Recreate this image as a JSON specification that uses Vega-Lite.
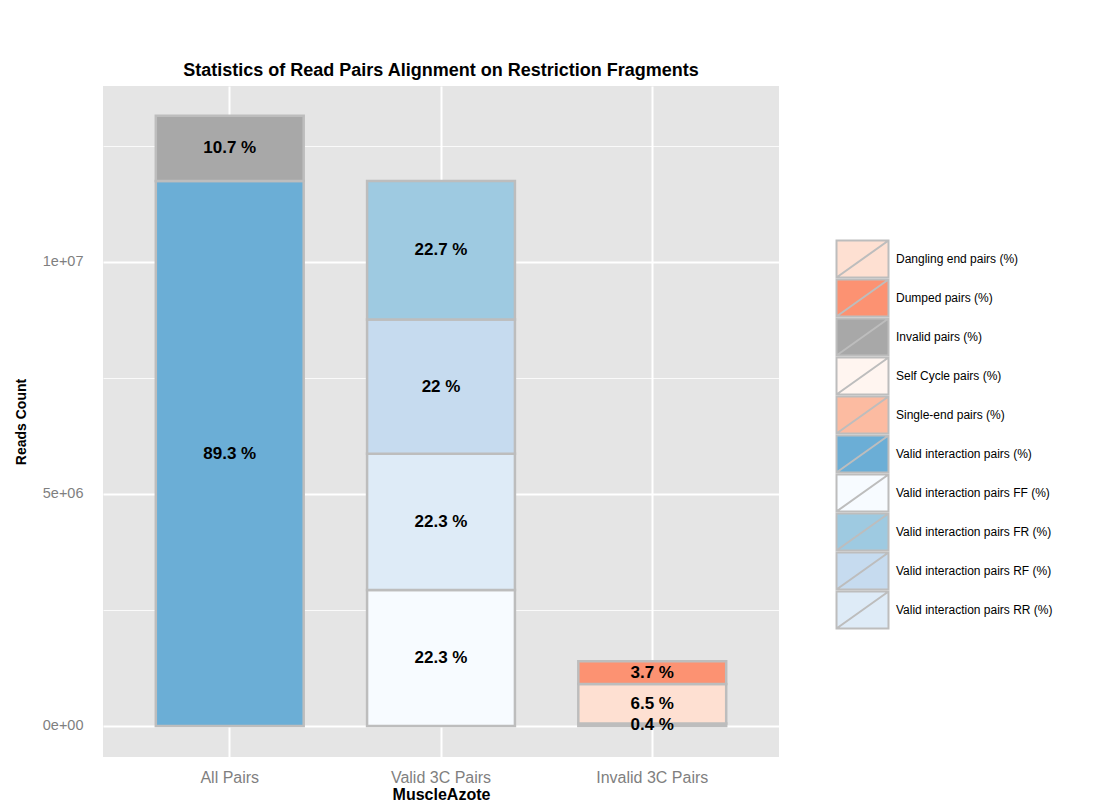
{
  "$schema": "https://vega.github.io/schema/vega-lite/v6.json",
  "width": 676,
  "height": 671,
  "autosize": "none",
  "padding": {"left": 103, "top": 86, "right": 316, "bottom": 50},
  "background": "white",
  "title": {
    "text": "Statistics of Read Pairs Alignment on Restriction Fragments",
    "font": "Liberation Sans",
    "fontSize": 18,
    "fontWeight": "bold",
    "color": "black",
    "anchor": "middle",
    "offset": 6
  },
  "config": {
    "view": {"fill": "#e5e5e5", "stroke": null},
    "font": "Liberation Sans"
  },
  "data": {
    "values": [
      {"sample": "All Pairs", "type": "Valid interaction pairs (%)", "reads": 11742950, "perc": 89.3, "rank": 1},
      {"sample": "All Pairs", "type": "Invalid pairs (%)", "reads": 1407050, "perc": 10.7, "rank": 2},
      {"sample": "Valid 3C Pairs", "type": "Valid interaction pairs FF (%)", "reads": 2932450, "perc": 22.3, "rank": 1},
      {"sample": "Valid 3C Pairs", "type": "Valid interaction pairs RR (%)", "reads": 2932450, "perc": 22.3, "rank": 2},
      {"sample": "Valid 3C Pairs", "type": "Valid interaction pairs RF (%)", "reads": 2893000, "perc": 22, "rank": 3},
      {"sample": "Valid 3C Pairs", "type": "Valid interaction pairs FR (%)", "reads": 2985050, "perc": 22.7, "rank": 4},
      {"sample": "Invalid 3C Pairs", "type": "Self Cycle pairs (%)", "reads": 52600, "perc": 0.4, "rank": 1},
      {"sample": "Invalid 3C Pairs", "type": "Dangling end pairs (%)", "reads": 854750, "perc": 6.5, "rank": 2},
      {"sample": "Invalid 3C Pairs", "type": "Dumped pairs (%)", "reads": 486550, "perc": 3.7, "rank": 3}
    ]
  },
  "encoding": {
    "x": {
      "field": "sample",
      "type": "nominal",
      "sort": ["All Pairs", "Valid 3C Pairs", "Invalid 3C Pairs"],
      "scale": {"paddingInner": 0.3, "paddingOuter": 0.25},
      "axis": {
        "title": "MuscleAzote",
        "titleFont": "Liberation Sans",
        "titleFontSize": 16,
        "titleFontWeight": "bold",
        "titleColor": "black",
        "titlePadding": 1,
        "labelAngle": 0,
        "labelFontSize": 16,
        "labelColor": "#7f7f7f",
        "labelPadding": 12,
        "tickSize": 0,
        "domain": false,
        "grid": true,
        "gridColor": "white",
        "gridWidth": 2,
        "bandPosition": 0.5
      }
    }
  },
  "layer": [
    {
      "mark": {"type": "bar", "stroke": "#bdbdbd", "strokeWidth": 2.5},
      "encoding": {
        "y": {
          "field": "reads",
          "type": "quantitative",
          "stack": "zero",
          "scale": {"domain": [-668000, 13790000], "nice": false, "zero": false},
          "axis": {
            "title": "Reads Count",
            "titleFont": "Liberation Sans",
            "titleFontSize": 14,
            "titleFontWeight": "bold",
            "titleColor": "black",
            "titlePadding": 14,
            "values": [0, 2500000, 5000000, 7500000, 10000000, 12500000],
            "labelExpr": "datum.value == 0 ? '0e+00' : datum.value == 5000000 ? '5e+06' : datum.value == 10000000 ? '1e+07' : ''",
            "labelFontSize": 14.5,
            "labelColor": "#7f7f7f",
            "labelPadding": 20,
            "tickSize": 0,
            "domain": false,
            "grid": true,
            "gridColor": "white",
            "gridWidth": {"condition": {"test": "datum.value % 5000000 == 0", "value": 2}, "value": 0.8}
          }
        },
        "order": {"field": "rank", "type": "quantitative"},
        "color": {
          "field": "type",
          "type": "nominal",
          "scale": {
            "domain": [
              "Dangling end pairs (%)",
              "Dumped pairs (%)",
              "Invalid pairs (%)",
              "Self Cycle pairs (%)",
              "Single-end pairs (%)",
              "Valid interaction pairs (%)",
              "Valid interaction pairs FF (%)",
              "Valid interaction pairs FR (%)",
              "Valid interaction pairs RF (%)",
              "Valid interaction pairs RR (%)"
            ],
            "range": ["#fee0d2", "#fc9272", "#a8a8a8", "#fff5f0", "#fcbba1", "#6baed6", "#f7fbff", "#9ecae1", "#c6dbef", "#deebf7"]
          },
          "legend": {
            "orient": "none",
            "legendX": 743.5,
            "legendY": 157,
            "title": null,
            "padding": 0,
            "symbolType": "M-1.733,-1.233H1.733V1.233H-1.733Z M-1.733,1.233L1.733,-1.233",
            "symbolSize": 900,
            "symbolStrokeColor": "#bdbdbd",
            "symbolStrokeWidth": 2,
            "symbolOpacity": 1,
            "rowPadding": -15,
            "labelOffset": 17.5,
            "labelFontSize": 12,
            "labelColor": "black",
            "labelLimit": 300
          }
        }
      }
    },
    {
      "transform": [
        {"stack": "reads", "groupby": ["sample"], "sort": [{"field": "rank", "order": "ascending"}], "as": ["lo", "hi"]},
        {"calculate": "(datum.lo + datum.hi) / 2", "as": "mid"},
        {"calculate": "datum.perc + ' %'", "as": "label"}
      ],
      "mark": {"type": "text", "fontSize": 17, "fontWeight": "bold", "color": "black", "font": "Liberation Sans"},
      "encoding": {
        "y": {"field": "mid", "type": "quantitative"},
        "text": {"field": "label"}
      }
    }
  ]
}
